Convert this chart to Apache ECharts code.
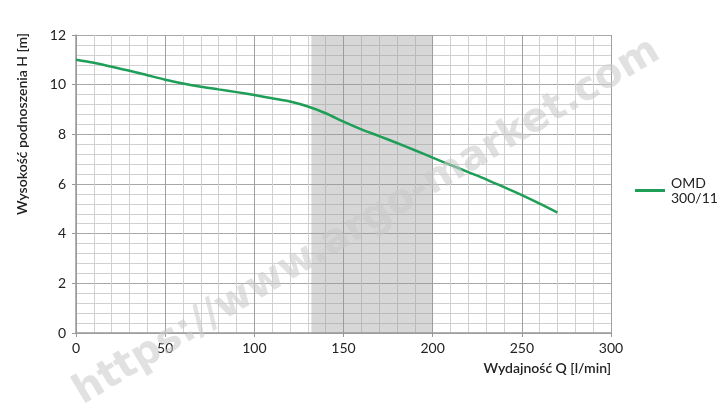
<!DOCTYPE html>
<html>
<head>
<meta charset="utf-8">
<script src="https://cdn.jsdelivr.net/npm/echarts@6/dist/echarts.min.js"></script>
<style>
html,body{margin:0;padding:0;background:#fff;}
#chart{width:724px;height:417px;}
</style>
</head>
<body>
<div id="chart"></div>
<script>
const flow = [0,10,20,30,40,50,60,70,80,90,100,110,120,130,140,150,160,170,180,190,200,210,220,230,240,250,260,270];
const head = [11.0,10.88,10.72,10.56,10.38,10.2,10.05,9.92,9.81,9.7,9.58,9.45,9.32,9.12,8.85,8.51,8.2,7.93,7.65,7.36,7.06,6.77,6.48,6.19,5.87,5.55,5.21,4.85];
const seriesName = 'OMD\n300/11';
const bandRange = [132, 200];
const xTitle = 'Wydajność Q [l/min]';
const yTitle = 'Wysokość podnoszenia H [m]';
const watermark = 'https://www.argo-market.com';

const FONT = 'Lato, "Open Sans", sans-serif';
const chart = echarts.init(document.getElementById('chart'), null, {renderer:'canvas'});
chart.setOption({
  animation:false,
  backgroundColor:'#fff',
  grid:{left:76,right:113,top:35,bottom:84,containLabel:false},
  legend:{
    orient:'vertical', left:630, top:163,
    itemWidth:30, itemHeight:3, icon:'rect', itemGap:0,
    data:[seriesName],
    textStyle:{fontFamily:FONT,fontSize:14,color:'#222',lineHeight:15,padding:[15,0,0,1]}
  },
  xAxis:{
    type:'value', min:0, max:300, interval:50,
    axisLine:{show:true,lineStyle:{color:'#999',width:1.5}},
    axisTick:{show:true,length:4,lineStyle:{color:'#999'}},
    axisLabel:{fontFamily:FONT,fontSize:14,color:'#222',margin:8},
    splitLine:{show:true,lineStyle:{color:'#a0a0a0',width:1}},
    minorTick:{show:false,splitNumber:5},
    minorSplitLine:{show:true,lineStyle:{color:'#d0d0d0',width:1}},
    name:xTitle, nameLocation:'end', nameGap:0,
    nameTextStyle:{fontFamily:FONT,fontSize:14,fontWeight:600,color:'#222',align:'right',verticalAlign:'top',padding:[28,0,0,0]}
  },
  yAxis:{
    type:'value', min:0, max:12, interval:2,
    axisLine:{show:true,lineStyle:{color:'#999',width:1.5}},
    axisTick:{show:true,length:4,lineStyle:{color:'#999'}},
    axisLabel:{fontFamily:FONT,fontSize:14,color:'#222',margin:10},
    splitLine:{show:true,lineStyle:{color:'#a8a8a8',width:1.2}},
    minorTick:{show:false,splitNumber:5},
    minorSplitLine:{show:true,lineStyle:{color:'#d0d0d0',width:1}}
  },
  graphic:[
    {type:'text', x:22, y:33, rotation:Math.PI/2, z:10,
     style:{text:yTitle, fontFamily:FONT, fontSize:14, fontWeight:600, fill:'#222', textAlign:'right', textVerticalAlign:'middle'}},
    {type:'text', x:367, y:222, rotation:31*Math.PI/180, z:100, silent:true,
     style:{text:watermark, fontFamily:'"DejaVu Sans", sans-serif', fontSize:40, fontWeight:'bold', fill:'rgba(200,200,200,0.55)', textAlign:'center', textVerticalAlign:'middle'}}
  ],
  series:[{
    name:seriesName, type:'line', smooth:0.3, showSymbol:false,
    data:flow.map((q,i)=>[q,head[i]]),
    lineStyle:{color:'#1f9e57',width:2.5},
    itemStyle:{color:'#1f9e57'},
    markArea:{silent:true, itemStyle:{color:'rgba(150,150,150,0.38)'},
      data:[[{xAxis:bandRange[0]},{xAxis:bandRange[1]}]]}
  }]
});
</script>
</body>
</html>
